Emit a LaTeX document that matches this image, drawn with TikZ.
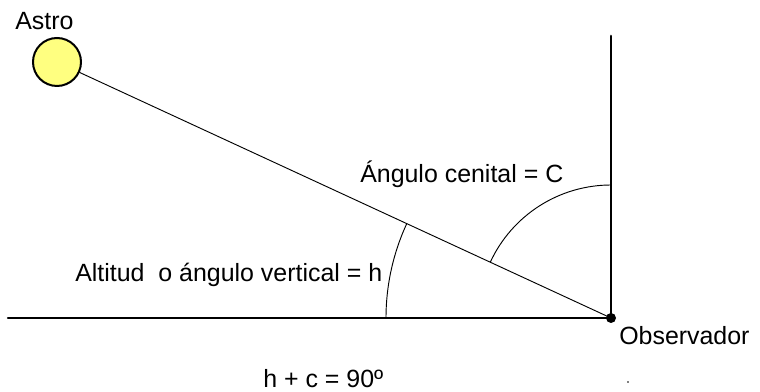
\documentclass[tikz,border=0pt]{standalone}
\usepackage{fontspec}
\setmainfont{Liberation Sans}
\definecolor{AstroYellow}{HTML}{FFFF80}

\begin{document}
\begin{tikzpicture}[x=0.75pt,y=0.75pt,line cap=round,line join=round,font=\fontsize{18.7}{21}\selectfont]
  \useasboundingbox (0,0) rectangle (760,392);
  \coordinate (obs) at (611,74);
  \coordinate (west) at (8,74);
  \coordinate (zenith) at (611,356);
  \node[circle,draw,line width=1.5pt,fill=AstroYellow,inner sep=0pt,minimum size=36pt] (astro) at (57,330) {};
  \draw[line width=1.6pt] (west) -- (obs);
  \draw[line width=2pt] (obs) -- (zenith);
  \draw[line width=0.7pt] (astro) -- (obs);
  \draw[line width=0.7pt] (obs) ++(180:225) arc[start angle=180,end angle=155.2,radius=225];
  \draw[line width=0.7pt] (obs) ++(90:133) arc[start angle=90,end angle=155.2,radius=133];
  \fill (obs) circle[radius=5];
  \node[anchor=base west,inner sep=0pt] (astrolbl) at (15,362) {Astro};
  \node[anchor=base west,inner sep=0pt] (cenital) at (360,209) {Ángulo cenital = C};
  \node[anchor=base west,inner sep=0pt] (altitud) at (75,110) {Altitud\ \ o ángulo vertical = h};
  \node[anchor=base west,inner sep=0pt] (obslbl) at (619,47) {Observador};
  \node[anchor=base west,inner sep=0pt] (suma) at (263,4) {h + c = 90º};
  \fill (628,10) circle[radius=0.8];
\end{tikzpicture}
\end{document}
